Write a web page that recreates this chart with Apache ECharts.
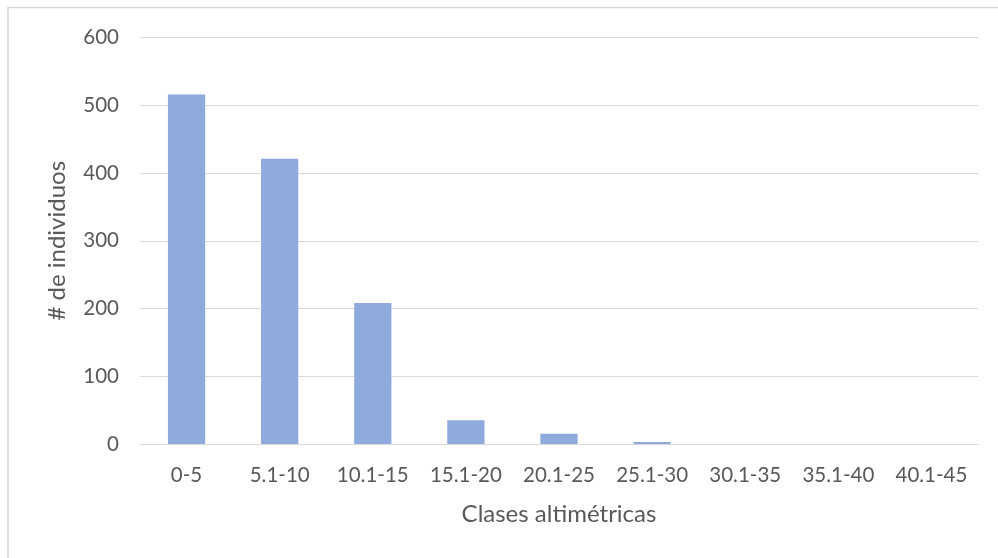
<!DOCTYPE html>
<html>
<head>
<meta charset="utf-8">
<script src="https://cdn.jsdelivr.net/npm/echarts@6/dist/echarts.min.js"></script>
<style>
  html, body { margin: 0; padding: 0; background: #fff; }
  #chart { width: 998px; height: 558px; }
</style>
</head>
<body>
<div id="chart"></div>
<script>
// Height classes (m) and number of individuals per class
const categories = ['0-5', '5.1-10', '10.1-15', '15.1-20', '20.1-25', '25.1-30', '30.1-35', '35.1-40', '40.1-45'];
const individuals = [516, 421, 208, 35, 15, 3, 0, 0, 0];
const yTicks = { min: 0, max: 600, interval: 100 };

const FONT = 'Lato, "Open Sans", "Liberation Sans", sans-serif';
const TEXT = '#595959';
const GRID = '#d9d9d9';

const chart = echarts.init(document.getElementById('chart'), null, { renderer: 'canvas' });
chart.setOption({
  backgroundColor: '#ffffff',
  animation: false,
  // chart-area frame: only its top and left edges fall inside the canvas
  graphic: [{
    type: 'polyline',
    shape: { points: [[8, 558], [8, 7.5], [998, 7.5]] },
    style: { fill: 'none', stroke: '#d9d9d9', lineWidth: 1.5 },
    silent: true
  }],
  grid: { left: 140, right: 20, top: 37.5, bottom: 114, containLabel: false },
  xAxis: {
    type: 'category',
    data: categories,
    name: 'Clases altimétricas',
    nameLocation: 'middle',
    nameGap: 58,
    nameTextStyle: { color: TEXT, fontSize: 24, fontFamily: FONT },
    axisLine: { lineStyle: { color: GRID, width: 1 } },
    axisTick: { show: false },
    axisLabel: { color: TEXT, fontSize: 20.5, fontFamily: FONT, margin: 21, interval: 0 }
  },
  yAxis: {
    type: 'value',
    min: yTicks.min,
    max: yTicks.max,
    interval: yTicks.interval,
    name: '# de individuos',
    nameLocation: 'middle',
    nameGap: 71,
    nameTextStyle: { color: TEXT, fontSize: 24, fontFamily: FONT },
    axisLine: { show: false },
    axisTick: { show: false },
    axisLabel: { color: TEXT, fontSize: 20.5, fontFamily: FONT, margin: 21 },
    splitLine: { lineStyle: { color: GRID, width: 1 } }
  },
  series: [{
    type: 'bar',
    data: individuals,
    barWidth: '40%',
    itemStyle: { color: '#8faadc' }
  }]
});
</script>
</body>
</html>
